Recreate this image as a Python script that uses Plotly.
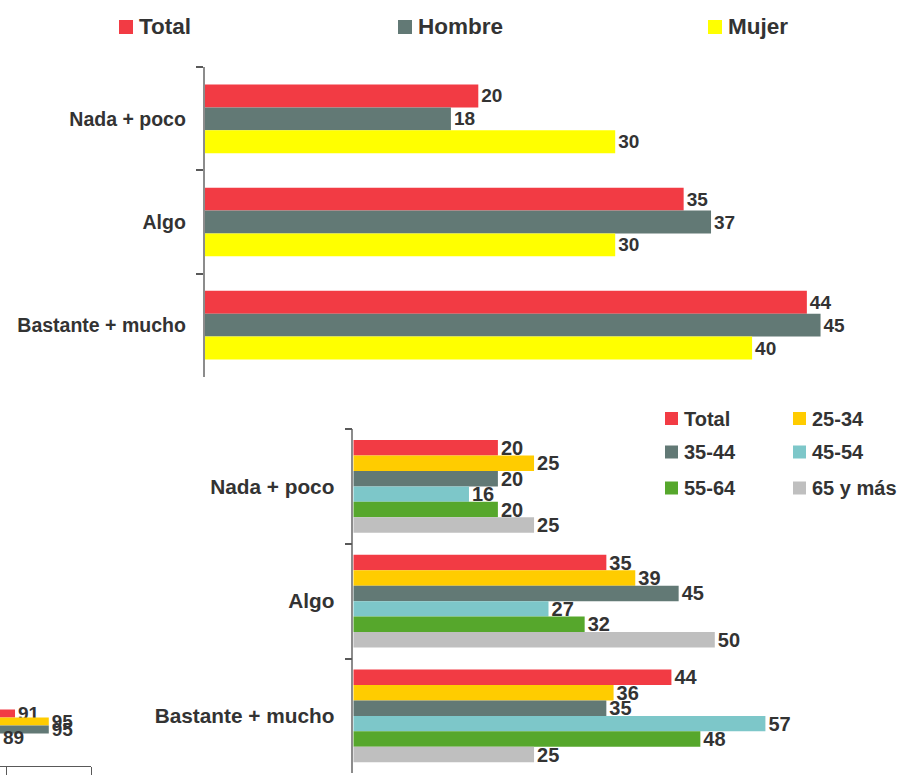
import plotly.graph_objects as go

W, H = 899, 775

# ---------------- data ----------------
categories = ["Nada + poco", "Algo", "Bastante + mucho"]

# top chart: by sex
sexo_names = ["Total", "Hombre", "Mujer"]
sexo_total = [20, 35, 44]
sexo_hombre = [18, 37, 45]
sexo_mujer = [30, 30, 40]
sexo_colors = ["#F23B44", "#627975", "#FFFF00"]

# bottom chart: by age
edad_names = ["Total", "25-34", "35-44", "45-54", "55-64", "65 y más"]
edad_total = [20, 35, 44]
edad_25_34 = [25, 39, 36]
edad_35_44 = [20, 45, 35]
edad_45_54 = [16, 27, 57]
edad_55_64 = [20, 32, 48]
edad_65_mas = [25, 50, 25]
edad_colors = ["#F23B44", "#FFCC00", "#627975", "#7DC7C9", "#56A72C", "#BFBFBF"]

# partially visible chart, bottom-left edge
frag_category = ["-"]
frag_names = ["Total", "25-34", "35-44", "45-54"]
frag_values = [91, 95, 95, 89]
frag_colors = ["#F23B44", "#FFCC00", "#627975", "#7DC7C9"]

# ---------------- helpers ----------------
FONT = "Liberation Sans, Arial, Helvetica, sans-serif"
TXT = "#333333"


def px(x):
    return x / W


def py(y):
    return 1 - y / H


fig = go.Figure()
shapes = []
annotations = []

# ---------------- top chart ----------------
sexo_series = [sexo_total, sexo_hombre, sexo_mujer]
bw_top = 0.222
for i, (name, vals, col) in enumerate(zip(sexo_names, sexo_series, sexo_colors)):
    fig.add_trace(go.Bar(
        y=categories, x=vals, orientation="h", name=name,
        marker=dict(color=col, line=dict(width=0)),
        width=bw_top, offset=-1.5 * bw_top + i * bw_top,
        text=vals, textposition="outside", textangle=0, constraintext="none",
        cliponaxis=False,
        textfont=dict(family=FONT, size=19, color=TXT, weight="bold"),
        xaxis="x", yaxis="y", showlegend=False, hoverinfo="skip",
    ))

# ---------------- bottom chart ----------------
edad_series = [edad_total, edad_25_34, edad_35_44, edad_45_54, edad_55_64, edad_65_mas]
bw_bot = 0.1346
for i, (name, vals, col) in enumerate(zip(edad_names, edad_series, edad_colors)):
    fig.add_trace(go.Bar(
        y=categories, x=vals, orientation="h", name=name,
        marker=dict(color=col, line=dict(width=0)),
        width=bw_bot, offset=-3 * bw_bot + i * bw_bot,
        text=vals, textposition="outside", textangle=0, constraintext="none",
        cliponaxis=False,
        textfont=dict(family=FONT, size=20, color=TXT, weight="bold"),
        xaxis="x2", yaxis="y2", showlegend=False, hoverinfo="skip",
    ))

# ---------------- fragment chart ----------------
frag_range = [89.22, 100]
bw_fr = 0.0994
for i, (name, val, col) in enumerate(zip(frag_names, frag_values, frag_colors)):
    off = -2 * bw_fr + i * bw_fr
    visible_end = val > frag_range[0]
    fig.add_trace(go.Bar(
        y=frag_category, x=[val], orientation="h", name=name,
        marker=dict(color=col, line=dict(width=0)),
        width=bw_fr, offset=off,
        text=[val] if visible_end else None,
        textposition="outside", textangle=0, constraintext="none",
        cliponaxis=False,
        textfont=dict(family=FONT, size=19, color=TXT, weight="bold"),
        xaxis="x3", yaxis="y3", showlegend=False, hoverinfo="skip",
    ))
    if not visible_end:
        # bar ends left of the visible area: its label is still shown,
        # placed through the axis' own domain fraction
        frac = (val - frag_range[0]) / (frag_range[1] - frag_range[0])
        annotations.append(dict(xref="x3 domain", yref="y3", x=frac, y=off + bw_fr / 2,
                                xanchor="left", yanchor="middle", xshift=3,
                                showarrow=False, text=str(val),
                                font=dict(family=FONT, size=19, color=TXT, weight="bold")))

# ---------------- custom legends ----------------
top_leg_sq_x = [119, 398, 708]
for name, col, x0 in zip(sexo_names, sexo_colors, top_leg_sq_x):
    shapes.append(dict(type="rect", xref="paper", yref="paper",
                       x0=px(x0), x1=px(x0 + 14), y0=py(34), y1=py(20),
                       fillcolor=col, line=dict(width=0)))
    annotations.append(dict(xref="paper", yref="paper", x=px(x0 + 18), y=py(27),
                            xanchor="left", yanchor="middle", showarrow=False,
                            text=name, font=dict(family=FONT, size=22.5, color=TXT, weight="bold")))

bot_leg_cols = [665, 793]
bot_leg_rows = [418.5, 452, 488]
for k, (name, col) in enumerate(zip(edad_names, edad_colors)):
    x0 = bot_leg_cols[k % 2]
    yc = bot_leg_rows[k // 2]
    shapes.append(dict(type="rect", xref="paper", yref="paper",
                       x0=px(x0), x1=px(x0 + 13), y0=py(yc + 6.5), y1=py(yc - 6.5),
                       fillcolor=col, line=dict(width=0)))
    annotations.append(dict(xref="paper", yref="paper", x=px(x0 + 17), y=py(yc),
                            xanchor="left", yanchor="middle", showarrow=False,
                            text=name, font=dict(family=FONT, size=20, color=TXT, weight="bold")))

cat_axis = dict(
    type="category", range=[2.5, -0.5], tickson="boundaries",
    ticks="outside", ticklen=7, tickwidth=1.5, tickcolor="#595959",
    showline=True, linecolor="#8C8C8C", linewidth=1.5,
    showgrid=False, zeroline=False, fixedrange=True,
)

fig.update_layout(
    width=W, height=H,
    margin=dict(l=0, r=0, t=0, b=0, pad=0),
    paper_bgcolor="white", plot_bgcolor="white",
    barmode="overlay",
    showlegend=False,
    font=dict(family=FONT, color=TXT),
    xaxis=dict(domain=[px(204.5), 1], range=[0, (W - 204.5) / 13.69],
               visible=False, fixedrange=True),
    yaxis=dict(domain=[py(376.7), py(67.3)], anchor="x",
               tickfont=dict(family=FONT, size=19.5, color=TXT, weight="bold"),
               ticklabelstandoff=13, **cat_axis),
    xaxis2=dict(domain=[px(353.3), 1], range=[0, (W - 353.3) / 7.23],
                visible=False, fixedrange=True, anchor="y2"),
    yaxis2=dict(domain=[py(773.3), py(429)], anchor="x2",
                tickfont=dict(family=FONT, size=20.8, color=TXT, weight="bold"),
                ticklabelstandoff=13, **cat_axis),
    xaxis3=dict(domain=[0, px(91)], range=frag_range, anchor="y3",
                showline=True, linecolor="#595959", linewidth=1,
                ticks="outside", ticklen=9, tickcolor="#595959", tickwidth=1,
                tickvals=[90, 100], showticklabels=False,
                showgrid=False, zeroline=False, fixedrange=True),
    yaxis3=dict(domain=[py(766), py(685)], anchor="x3", type="category",
                range=[0.5, -0.5], visible=False, fixedrange=True),
    shapes=shapes,
    annotations=annotations,
)

fig.write_html("out.html", include_plotlyjs=True,
               config={"displayModeBar": False},
               post_script="document.body.style.margin='0';document.body.style.overflow='hidden';")
